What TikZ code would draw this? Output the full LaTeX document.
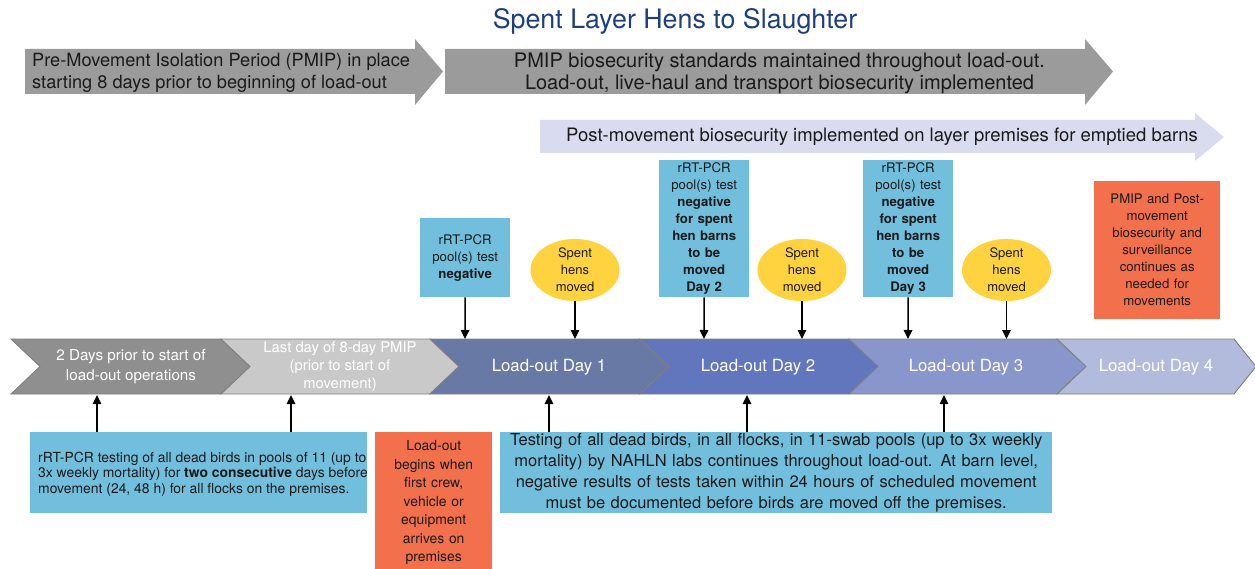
\documentclass[tikz,border=0pt]{standalone}
\usepackage{fontspec}
\setmainfont{TeX Gyre Heros}
\usetikzlibrary{arrows.meta,shapes.geometric}
\definecolor{arrgray}{HTML}{9B9B9B}
\definecolor{arrlight}{HTML}{D9DCEE}
\definecolor{segA}{HTML}{8F8F8F}
\definecolor{segB}{HTML}{C9C9C9}
\definecolor{segC}{HTML}{6879A5}
\definecolor{segD}{HTML}{6176BC}
\definecolor{segE}{HTML}{8996CB}
\definecolor{segF}{HTML}{B3BBDC}
\definecolor{segline}{HTML}{7F7F7F}
\definecolor{boxblue}{HTML}{72BFDD}
\definecolor{boxorange}{HTML}{F3704C}
\definecolor{boxyellow}{HTML}{FFD23F}
\definecolor{titleblue}{HTML}{1E3F7E}
\definecolor{txtdark}{HTML}{1A1A1A}
\begin{document}
\begin{tikzpicture}[x=1pt,y=-1pt,
  seg/.style={draw=segline, line width=0.9pt, line join=miter},
  segtext/.style={text=white, align=center, inner sep=0pt},
  bluebox/.style={fill=boxblue, inner sep=0pt, align=center, anchor=north west, text=txtdark},
  orangebox/.style={fill=boxorange, inner sep=0pt, align=center, anchor=north west, text=txtdark},
  yellowell/.style={ellipse, fill=boxyellow, inner sep=0pt, align=center, minimum width=89pt, minimum height=54pt, text=txtdark,
    font=\fontsize{13}{17}\selectfont},
  smallfont/.style={font=\fontsize{13.2}{17}\selectfont},
  conn/.style={line width=1.5pt, -{Triangle[length=9pt,width=8.5pt]}},
]
\useasboundingbox (0,0) rectangle (1255,569);
\clip (0,0) rectangle (1255,569);

% title
\node[text=titleblue, inner sep=0pt, font=\fontsize{26.8}{30}\selectfont] (title) at (675,21) {Spent Layer Hens to Slaughter};

% top arrows
\fill[arrgray] (25,49) -- (415,49) -- (415,39) -- (443,71.5) -- (415,105) -- (415,94) -- (25,94) -- cycle;
\node[anchor=west, align=left, inner sep=0pt, font=\fontsize{18.2}{22}\selectfont, text=txtdark] (pmip) at (32,73)
  {Pre-Movement Isolation Period (PMIP) in place\\starting 8 days prior to beginning of load-out};
\fill[arrgray] (445,49) -- (1085,49) -- (1085,39) -- (1113,71.5) -- (1085,105) -- (1085,94) -- (445,94) -- cycle;
\node[align=center, inner sep=0pt, font=\fontsize{20}{22}\selectfont, text=txtdark] (pmipmaint) at (779.5,73)
  {PMIP biosecurity standards maintained throughout load-out.\\Load-out, live-haul and transport biosecurity implemented};
\fill[arrlight] (540,120) -- (1195,120) -- (1195,113) -- (1224,137) -- (1195,161) -- (1195,153) -- (540,153) -- cycle;
\node[inner sep=0pt, font=\fontsize{18.5}{22}\selectfont, text=txtdark] (postmove) at (882,137)
  {Post-movement biosecurity implemented on layer premises for emptied barns};

% timeline chevrons
\foreach \a/\b/\c in {11/221/segA, 221/430/segB, 430/640/segC, 640/849/segD, 849/1057/segE}
  \draw[seg, fill=\c] (\a,339) -- (\b,339) -- (\b+29,366.5) -- (\b,394) -- (\a,394) -- (\a+29,366.5) -- cycle;
\draw[seg, fill=segF] (1057,339) -- (1234,339) -- (1256,366.5) -- (1234,394) -- (1057,394) -- (1086,366.5) -- cycle;

\node[segtext, font=\fontsize{15.2}{19.5}\selectfont] (s1) at (131,366.5) {2 Days prior to start of\\load-out operations};
\node[segtext, font=\fontsize{14.8}{18}\selectfont] (s2) at (340,367) {Last day of 8-day PMIP\\(prior to start of\\movement)};
\node[segtext, font=\fontsize{16.8}{20}\selectfont] (s3) at (549,367) {Load-out Day 1};
\node[segtext, font=\fontsize{16.8}{20}\selectfont] (s4) at (758,367) {Load-out Day 2};
\node[segtext, font=\fontsize{16.8}{20}\selectfont] (s5) at (966,367) {Load-out Day 3};
\node[segtext, font=\fontsize{16.8}{20}\selectfont] (s6) at (1156,367) {Load-out Day 4};

% top boxes
\node[bluebox, smallfont, text width=90pt, minimum height=79pt] (bA) at (420,218)
  {rRT-PCR\\pool(s) test\\\textbf{negative}};
\node[bluebox, smallfont, text width=90pt, minimum height=137pt] (bB) at (659,160)
  {rRT-PCR\\pool(s) test\\\textbf{negative}\\\textbf{for spent}\\\textbf{hen barns}\\\textbf{to be}\\\textbf{moved}\\\textbf{Day 2}};
\node[bluebox, smallfont, text width=90pt, minimum height=137pt] (bC) at (863,160)
  {rRT-PCR\\pool(s) test\\\textbf{negative}\\\textbf{for spent}\\\textbf{hen barns}\\\textbf{to be}\\\textbf{moved}\\\textbf{Day 3}};
\node[orangebox, smallfont, text width=126pt, minimum height=138pt] (oT) at (1094,181)
  {PMIP and Post-\\movement\\biosecurity and\\surveillance\\continues as\\needed for\\movements};
\node[yellowell] (e1) at (575,270) {Spent\\hens\\moved};
\node[yellowell] (e2) at (802,270) {Spent\\hens\\moved};
\node[yellowell] (e3) at (1006.5,270) {Spent\\hens\\moved};

% bottom boxes
\node[fill=boxblue, inner sep=0pt, minimum width=337pt, minimum height=81pt, anchor=north west] (bD) at (30,432) {};
\node[anchor=west, align=left, inner sep=0pt, text=txtdark, font=\fontsize{13.9}{15.5}\selectfont] (bDtext) at (38,474)
  {rRT-PCR testing of all dead birds in pools of 11 (up to\\3x weekly mortality) for \textbf{two consecutive} days before\\movement (24, 48 h) for all flocks on the premises.};
\node[orangebox, text width=117pt, minimum height=141pt, font=\fontsize{13.9}{18.5}\selectfont] (oE) at (375,432)
  {Load-out\\begins when\\first crew,\\vehicle or\\equipment\\arrives on\\premises};
\node[bluebox, text width=552pt, minimum height=81pt, font=\fontsize{16.5}{21}\selectfont] (bF) at (500,432)
  {Testing of all dead birds, in all flocks, in 11-swab pools (up to 3x weekly\\mortality) by NAHLN labs continues throughout load-out. At barn level,\\negative results of tests taken within 24 hours of scheduled movement\\must be documented before birds are moved off the premises.};

% timeline anchor coordinates
\coordinate (tA) at (465,339);
\coordinate (tE1) at (575,339);
\coordinate (tB) at (704,339);
\coordinate (tE2) at (802,339);
\coordinate (tC) at (908,339);
\coordinate (tE3) at (1006.5,339);
\coordinate (u1) at (97,395);
\coordinate (u2) at (291,395);
\coordinate (u3) at (549,395);
\coordinate (u4) at (747,395);
\coordinate (u5) at (944,395);

% connectors
\draw[conn] (bA.south) -- (tA);
\draw[conn] (e1.south) -- (tE1);
\draw[conn] (bB.south) -- (tB);
\draw[conn] (e2.south) -- (tE2);
\draw[conn] (bC.south) -- (tC);
\draw[conn] (e3.south) -- (tE3);
\draw[conn] (bD.north -| u1) -- (u1);
\draw[conn] (bD.north -| u2) -- (u2);
\draw[conn] (bF.north -| u3) -- (u3);
\draw[conn] (bF.north -| u4) -- (u4);
\draw[conn] (bF.north -| u5) -- (u5);
\end{tikzpicture}
\end{document}
